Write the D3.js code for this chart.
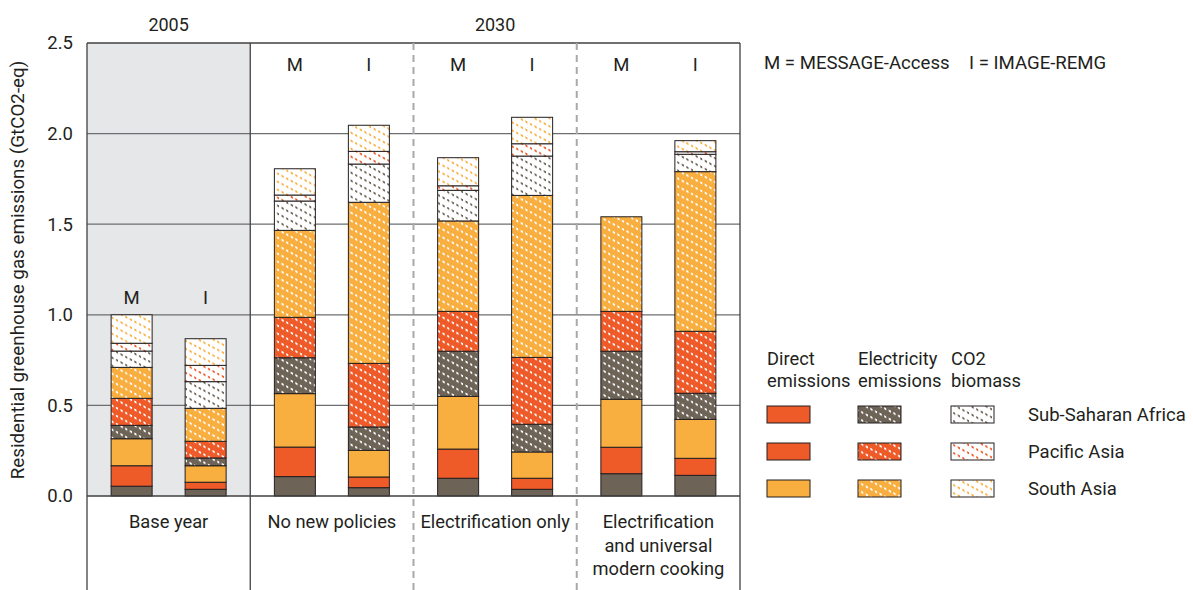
<!DOCTYPE html>
<html>
<head>
<meta charset="utf-8">
<script src="https://cdn.jsdelivr.net/npm/d3@7"></script>
<style>
  body { margin: 0; background: #fff; }
  svg text { font-family: Roboto, "Open Sans", sans-serif; fill: #231f20; }
</style>
</head>
<body>
<div id="chart"></div>
<script>
// scenarios (panels) and models (bars inside a panel)
const scenarios = ["Base year", "No new policies", "Electrification only", "Electrification and universal modern cooking"];
const scenarioLines = [["Base year"], ["No new policies"], ["Electrification only"], ["Electrification", "and universal", "modern cooking"]];
const models = ["M", "I"];
const yTicks = [0, 0.5, 1.0, 1.5, 2.0, 2.5];

// values per bar, order: Base M, Base I, NNP M, NNP I, Elec M, Elec I, Elec+cook M, Elec+cook I
const directSSA = [0.054, 0.037, 0.107, 0.046, 0.098, 0.037, 0.123, 0.114];
const directPA  = [0.113, 0.039, 0.163, 0.059, 0.161, 0.061, 0.146, 0.094];
const directSA  = [0.149, 0.091, 0.295, 0.147, 0.291, 0.145, 0.265, 0.215];
const elecSSA   = [0.074, 0.043, 0.198, 0.129, 0.249, 0.153, 0.265, 0.144];
const elecPA    = [0.149, 0.092, 0.223, 0.351, 0.220, 0.369, 0.220, 0.342];
const elecSA    = [0.171, 0.182, 0.480, 0.889, 0.499, 0.894, 0.522, 0.881];
const bioSSA    = [0.090, 0.147, 0.162, 0.211, 0.169, 0.217, 0, 0.096];
const bioPA     = [0.043, 0.090, 0.033, 0.070, 0.025, 0.068, 0, 0.014];
const bioSA     = [0.157, 0.147, 0.145, 0.144, 0.155, 0.146, 0, 0.061];

const regions = ["Sub-Saharan Africa", "Pacific Asia", "South Asia"];
const sources = ["Direct emissions", "Electricity emissions", "CO2 biomass"];

const colors = {ssa: "#6d6357", pa: "#ef5a29", sa: "#f9ae40"};

// stacking order, bottom to top
const layers = [
    {key: "directSSA", values: directSSA, region: "ssa", kind: "solid"},
    {key: "directPA",  values: directPA,  region: "pa",  kind: "solid"},
    {key: "directSA",  values: directSA,  region: "sa",  kind: "solid"},
    {key: "elecSSA",   values: elecSSA,   region: "ssa", kind: "dots"},
    {key: "elecPA",    values: elecPA,    region: "pa",  kind: "dots"},
    {key: "elecSA",    values: elecSA,    region: "sa",  kind: "dots"},
    {key: "bioSSA",    values: bioSSA,    region: "ssa", kind: "open"},
    {key: "bioPA",     values: bioPA,     region: "pa",  kind: "open"},
    {key: "bioSA",     values: bioSA,     region: "sa",  kind: "open"}
];

// legend swatches as drawn in the source figure (rows = regions, cols = sources)
const legendSwatches = [
    [{region: "pa", kind: "solid"}, {region: "ssa", kind: "dots"}, {region: "ssa", kind: "open"}],
    [{region: "pa", kind: "solid"}, {region: "pa", kind: "dots"},  {region: "pa", kind: "open"}],
    [{region: "sa", kind: "solid"}, {region: "sa", kind: "dots"},  {region: "sa", kind: "open"}]
];

const width = 1193, height = 590;
const plot = {left: 87, right: 740, top: 43, bottom: 496, floor: 590};

const svg = d3.select("#chart").append("svg")
    .attr("width", width)
    .attr("height", height);

// patterns: dotted fills
const defs = svg.append("defs");
function addPattern(id, bg, dot) {
    const p = defs.append("pattern")
        .attr("id", id)
        .attr("patternUnits", "userSpaceOnUse")
        .attr("width", 4.6)
        .attr("height", 8)
        .attr("patternTransform", "skewY(28)");
    p.append("rect").attr("width", 4.6).attr("height", 8).attr("fill", bg);
    p.append("rect").attr("x", 1).attr("y", 1).attr("width", 2.1).attr("height", 2.1).attr("fill", dot);
}
Object.entries(colors).forEach(([k, c]) => {
    addPattern("dots-" + k, c, "#fff");
    addPattern("open-" + k, "#fff", c);
});
function fillFor(region, kind) {
    if (kind === "solid") return colors[region];
    return "url(#" + kind + "-" + region + ")";
}

const xPanel = d3.scaleBand().domain(scenarios).range([plot.left, plot.right]).padding(0);
const xModel = d3.scaleBand().domain(models).range([0, xPanel.bandwidth()])
    .paddingInner(0.446).paddingOuter(0.326);
const y = d3.scaleLinear().domain([0, 2.5]).range([plot.bottom, plot.top]);

// base year grey background
svg.append("rect")
    .attr("x", xPanel(scenarios[0]))
    .attr("y", y(2.5))
    .attr("width", xPanel.bandwidth())
    .attr("height", y(0) - y(2.5))
    .attr("fill", "#e6e7e8");

// gridlines
svg.append("g")
    .selectAll("line")
    .data(yTicks.filter(t => t > 0 && t < 2.5))
    .join("line")
    .attr("x1", plot.left).attr("x2", plot.right)
    .attr("y1", d => y(d)).attr("y2", d => y(d))
    .attr("stroke", "#6d6e71")
    .attr("stroke-width", 1.2);

// y axis labels
const yAxis = d3.axisLeft(y).tickValues(yTicks).tickFormat(d3.format(".1f")).tickSize(0).tickPadding(14);
const yAxisG = svg.append("g")
    .attr("transform", "translate(" + plot.left + ",0)")
    .call(yAxis);
yAxisG.select(".domain").remove();
yAxisG.selectAll("text")
    .style("font-family", "Roboto, sans-serif")
    .attr("font-size", 18.5)
    .attr("fill", "#231f20");

svg.append("text")
    .attr("transform", "translate(24,270) rotate(-90)")
    .attr("text-anchor", "middle")
    .attr("font-size", 18.8)
    .text("Residential greenhouse gas emissions (GtCO2-eq)");

// stacked bars
const bars = [];
scenarios.forEach((s, si) => {
    models.forEach((m, mi) => {
        const idx = si * 2 + mi;
        let acc = 0;
        layers.forEach(l => {
            const v = l.values[idx];
            if (v > 0) bars.push({scenario: s, model: m, y0: acc, y1: acc + v, region: l.region, kind: l.kind});
            acc += v;
        });
    });
});

svg.append("g")
    .selectAll("rect")
    .data(bars)
    .join("rect")
    .attr("x", d => xPanel(d.scenario) + xModel(d.model))
    .attr("width", xModel.bandwidth())
    .attr("y", d => y(d.y1))
    .attr("height", d => y(d.y0) - y(d.y1))
    .attr("fill", d => fillFor(d.region, d.kind))
    .attr("stroke", "#231f20")
    .attr("stroke-width", 1);

// M / I labels
const totals = scenarios.map((s, si) => models.map((m, mi) =>
    d3.sum(layers, l => l.values[si * 2 + mi])));
svg.append("g")
    .selectAll("text")
    .data(d3.cross(scenarios, models))
    .join("text")
    .attr("x", d => xPanel(d[0]) + xModel(d[1]) + xModel.bandwidth() / 2)
    .attr("y", d => d[0] === scenarios[0] ? y(d3.max(totals[0])) - 11 : 71)
    .attr("text-anchor", "middle")
    .attr("font-size", 18.5)
    .text(d => d[1]);

// frame lines
const frame = svg.append("g").attr("fill", "none");
frame.append("line")
    .attr("x1", plot.left).attr("x2", plot.right)
    .attr("y1", y(2.5)).attr("y2", y(2.5))
    .attr("stroke", "#414042").attr("stroke-width", 1.3);
frame.append("line")
    .attr("x1", plot.left).attr("x2", plot.right)
    .attr("y1", y(0)).attr("y2", y(0))
    .attr("stroke", "#414042").attr("stroke-width", 1.5);
[plot.left, xPanel(scenarios[1]), plot.right].forEach(x => {
    frame.append("line")
        .attr("x1", x).attr("x2", x)
        .attr("y1", y(2.5)).attr("y2", plot.floor)
        .attr("stroke", "#414042").attr("stroke-width", 1.3);
});
[xPanel(scenarios[2]), xPanel(scenarios[3])].forEach(x => {
    frame.append("line")
        .attr("x1", x).attr("x2", x)
        .attr("y1", y(2.5)).attr("y2", plot.floor)
        .attr("stroke", "#a7a9ac").attr("stroke-width", 2)
        .attr("stroke-dasharray", "7,5");
});

// scenario labels under the axis
svg.append("g")
    .selectAll("text")
    .data(scenarios)
    .join("text")
    .attr("text-anchor", "middle")
    .attr("font-size", 18.3)
    .attr("x", d => xPanel(d) + xPanel.bandwidth() / 2)
    .attr("y", 528)
    .each(function(d, i) {
        d3.select(this).selectAll("tspan")
            .data(scenarioLines[i])
            .join("tspan")
            .attr("x", xPanel(d) + xPanel.bandwidth() / 2)
            .attr("dy", (t, j) => j === 0 ? 0 : 23.5)
            .text(t => t);
    });

// year headers
svg.append("text")
    .attr("x", xPanel(scenarios[0]) + xPanel.bandwidth() / 2)
    .attr("y", 31).attr("text-anchor", "middle").attr("font-size", 18)
    .text("2005");
svg.append("text")
    .attr("x", (xPanel(scenarios[1]) + plot.right) / 2)
    .attr("y", 31).attr("text-anchor", "middle").attr("font-size", 18)
    .text("2030");

// model key
svg.append("text").attr("x", 764).attr("y", 69).attr("font-size", 18.6).text("M = MESSAGE-Access");
svg.append("text").attr("x", 969).attr("y", 69).attr("font-size", 18.6).text("I = IMAGE-REMG");

// legend
const legend = svg.append("g");
const colX = [767, 858, 951];
const headerLines = [["Direct", "emissions"], ["Electricity", "emissions"], ["CO2", "biomass"]];
headerLines.forEach((lines, i) => {
    legend.append("text")
        .attr("x", colX[i]).attr("y", 365)
        .attr("font-size", 18.3)
        .selectAll("tspan")
        .data(lines)
        .join("tspan")
        .attr("x", colX[i])
        .attr("dy", (t, j) => j === 0 ? 0 : 22)
        .text(t => t);
});
const rowY = [406, 443, 480];
legendSwatches.forEach((row, ri) => {
    row.forEach((sw, ci) => {
        legend.append("rect")
            .attr("x", colX[ci]).attr("y", rowY[ri])
            .attr("width", 43).attr("height", 17)
            .attr("fill", fillFor(sw.region, sw.kind))
            .attr("stroke", "#231f20").attr("stroke-width", 1);
    });
    legend.append("text")
        .attr("x", 1028).attr("y", rowY[ri] + 14.5)
        .attr("font-size", 18.5)
        .text(regions[ri]);
});
</script>
</body>
</html>
